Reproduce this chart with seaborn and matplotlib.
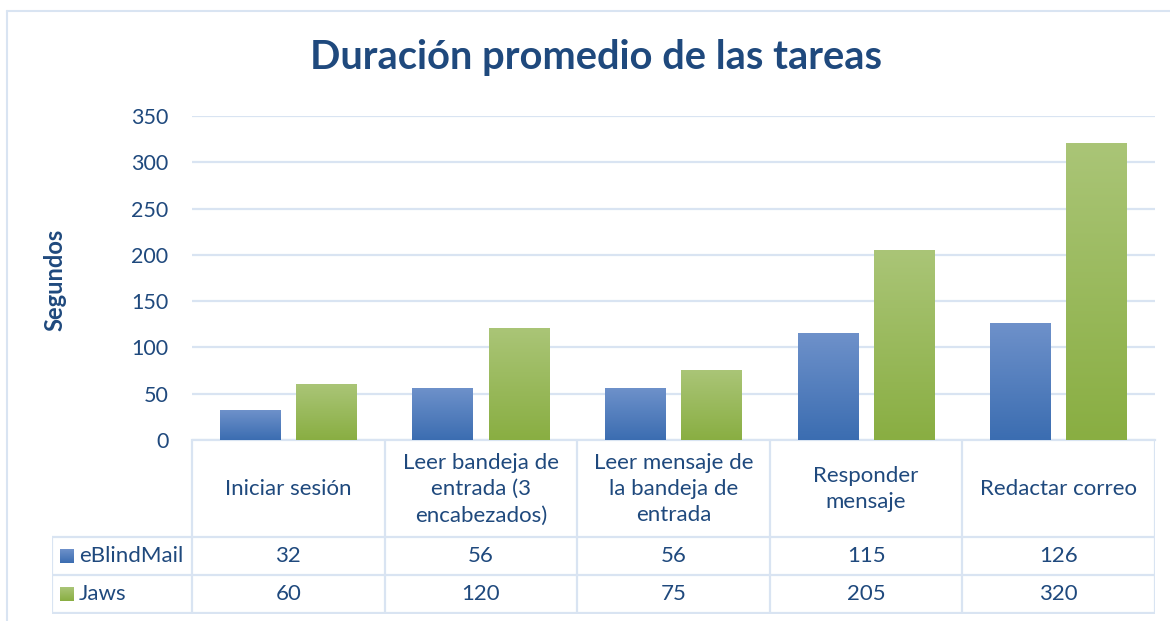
"""
plot.py — average task duration, eBlindMail vs Jaws, with a data table below.
"""
import matplotlib

matplotlib.use("Agg")

import matplotlib.pyplot as plt
import numpy as np
import pandas as pd
import seaborn as sns
from matplotlib.colors import LinearSegmentedColormap
from matplotlib.lines import Line2D

# --- data --------------------------------------------------------------
tasks = [
    "Iniciar sesión",
    "Leer bandeja de\nentrada (3\nencabezados)",
    "Leer mensaje de\nla bandeja de\nentrada",
    "Responder\nmensaje",
    "Redactar correo",
]
series_names = ["eBlindMail", "Jaws"]
eblindmail = [32, 56, 56, 115, 126]
jaws = [60, 120, 75, 205, 320]
yticks = [0, 50, 100, 150, 200, 250, 300, 350]

TEXT = "#1F497D"
GRID = "#D9E4F2"
BLUE_TOP, BLUE_BOT = "#6E91CA", "#3B6DB1"
GREEN_TOP, GREEN_BOT = "#AAC577", "#89AE42"

W, H = 1170, 621

sns.set_theme(style="white")
plt.rcParams["font.family"] = ["Lato", "DejaVu Sans"]

df = pd.DataFrame({
    "tarea": tasks * 2,
    "serie": [series_names[0]] * len(tasks) + [series_names[1]] * len(tasks),
    "segundos": eblindmail + jaws,
})

fig = plt.figure(figsize=(W / 100, H / 100), dpi=100)


def px(x0, y0, x1, y1):
    """Pixel box (left, top, right, bottom) -> figure rect."""
    return [x0 / W, 1 - y1 / H, (x1 - x0) / W, (y1 - y0) / H]


# --- bars --------------------------------------------------------------
ax = fig.add_axes(px(192, 116, 1155, 440))
sns.barplot(
    data=df, x="tarea", y="segundos", hue="serie",
    palette=[BLUE_BOT, GREEN_BOT], saturation=1, width=0.79, gap=0.2,
    legend=False, ax=ax,
)
ax.set_yticks(yticks)
ax.set_xticks([])
ax.set_xlabel("")
ax.set_ylabel("")
ax.grid(axis="y", color=GRID, linewidth=1.6)
ax.set_axisbelow(True)
for side in ["top", "right", "left"]:
    ax.spines[side].set_visible(False)
ax.spines["bottom"].set_color(GRID)
ax.spines["bottom"].set_linewidth(1.6)
ax.tick_params(axis="y", length=0, pad=17, labelsize=15.5, labelcolor=TEXT)

# vertical gradient on each bar (first series blue, second green)
ramp = np.linspace(0, 1, 256).reshape(-1, 1)
cmaps = [
    LinearSegmentedColormap.from_list("b", [BLUE_BOT, BLUE_TOP]),
    LinearSegmentedColormap.from_list("g", [GREEN_BOT, GREEN_TOP]),
]
bars = [p for p in ax.patches if p.get_height() > 0]
for k, bar in enumerate(bars):
    x0, y0 = bar.get_x(), bar.get_y()
    bw, bh = bar.get_width(), bar.get_height()
    bar.set_edgecolor("none")
    ax.imshow(ramp, cmap=cmaps[k // len(tasks)], origin="lower", aspect="auto",
              extent=(x0, x0 + bw, y0, y0 + bh), zorder=3)
ax.set_xlim(-0.5, len(tasks) - 0.5)
ax.set_ylim(0, 350)

# --- data table --------------------------------------------------------
tab = fig.add_axes(px(52, 441, 1155, 614))
label_w = (192 - 52) / 192.6
left = -0.5 - label_w
tab.axis("off")

lw = 1.6
for y in [96, 134, 172]:
    tab.plot([left, len(tasks) - 0.5], [y, y], color=GRID, lw=lw,
             solid_capstyle="butt")
tab.plot([left, left], [96, 172], color=GRID, lw=lw)
for i in range(len(tasks) + 1):
    xb = i - 0.5
    tab.plot([xb, xb], [0, 172], color=GRID, lw=lw)

for i, name in enumerate(tasks):
    tab.text(i, 48, name, ha="center", va="center", fontsize=16,
             color=TEXT, linespacing=1.4)
    tab.text(i, 115, str(eblindmail[i]), ha="center", va="center",
             fontsize=16, color=TEXT)
    tab.text(i, 153, str(jaws[i]), ha="center", va="center",
             fontsize=16, color=TEXT)

sq_w = 14 / 192.6
for y, name, top, bot in [(115, series_names[0], BLUE_TOP, BLUE_BOT),
                          (153, series_names[1], GREEN_TOP, GREEN_BOT)]:
    cmap = LinearSegmentedColormap.from_list(name, [top, bot])
    tab.imshow(ramp, cmap=cmap, aspect="auto", origin="upper",
               extent=(left + 8 / 192.6, left + 8 / 192.6 + sq_w, y + 7, y - 7))
    tab.text(left + 27 / 192.6, y, name, ha="left", va="center",
             fontsize=16, color=TEXT)
tab.set_xlim(left, len(tasks) - 0.5)
tab.set_ylim(173, 0)

# --- titles and frame --------------------------------------------------
fig.text(596 / W, 1 - 58 / H, "Duración promedio de las tareas",
         ha="center", va="center", fontsize=28.7, fontweight="bold", color=TEXT)
fig.text(55 / W, 1 - 280 / H, "Segundos", ha="center", va="center",
         rotation=90, fontsize=17, fontweight="bold", color=TEXT)

fig.add_artist(Line2D([7 / W, 1], [1 - 11 / H, 1 - 11 / H], color=GRID, lw=1.5))
fig.add_artist(Line2D([7 / W, 7 / W], [0, 1 - 11 / H], color=GRID, lw=1.5))

fig.savefig("out.png", dpi=100, facecolor="white")
